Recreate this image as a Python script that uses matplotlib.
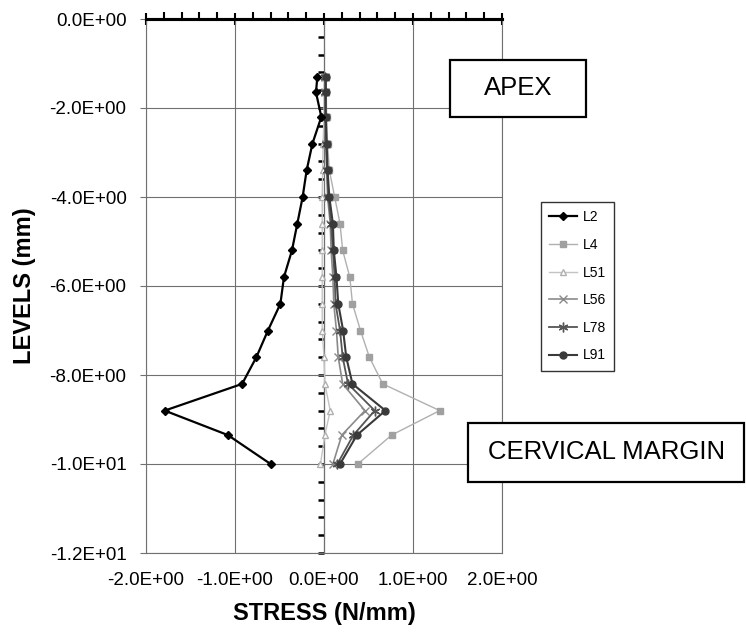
import matplotlib
matplotlib.use('Agg')
import matplotlib.pyplot as plt
from matplotlib.patches import Rectangle
from matplotlib.ticker import MultipleLocator, FuncFormatter, NullFormatter

plt.rcParams['font.family'] = ['Liberation Sans', 'DejaVu Sans']

# levels along the root (mm)
levels = [-1.3, -1.65, -2.2, -2.8, -3.4, -4.0, -4.6, -5.2, -5.8, -6.4,
          -7.0, -7.6, -8.2, -8.8, -9.35, -10.0]

# stress values (N/mm) per load case
L2 = [-0.075, -0.09, -0.03, -0.13, -0.195, -0.24, -0.30, -0.36, -0.45, -0.49,
      -0.63, -0.76, -0.92, -1.79, -1.08, -0.60]
L4 = [0.025, 0.025, 0.03, 0.04, 0.06, 0.12, 0.18, 0.21, 0.29, 0.32,
      0.41, 0.51, 0.66, 1.30, 0.76, 0.38]
L51 = [0.0, 0.0, 0.0, -0.01, -0.015, -0.02, -0.02, -0.02, -0.02, -0.02,
       -0.02, 0.0, 0.01, 0.07, 0.01, -0.04]
L56 = [0.01, 0.01, 0.01, 0.02, 0.03, 0.04, 0.07, 0.08, 0.10, 0.11,
       0.14, 0.16, 0.21, 0.46, 0.20, 0.10]
L78 = [0.015, 0.015, 0.015, 0.025, 0.035, 0.05, 0.08, 0.10, 0.12, 0.13,
       0.18, 0.21, 0.27, 0.57, 0.33, 0.15]
L91 = [0.02, 0.02, 0.02, 0.03, 0.04, 0.06, 0.10, 0.11, 0.14, 0.16,
       0.215, 0.25, 0.32, 0.69, 0.37, 0.18]

W, H = 746, 632
fig = plt.figure(figsize=(W / 100, H / 100), dpi=100)
ax = fig.add_axes([146 / W, 1 - 553 / H, 356 / W, 534 / H])

ax.plot(L2, levels, color='black', lw=1.6, marker='D', ms=4.5, label='L2', zorder=5)
ax.plot(L4, levels, color='#b0b0b0', lw=1.0, marker='s', ms=5, mfc='#a0a0a0',
        mec='#a0a0a0', label='L4', zorder=4)
ax.plot(L51, levels, color='#c4c4c4', lw=1.0, marker='^', ms=5, mfc='white',
        mec='#b0b0b0', label='L51', zorder=4)
ax.plot(L56, levels, color='#8a8a8a', lw=1.2, marker='x', ms=6, mew=1.0,
        label='L56', zorder=4)
ax.plot(L78, levels, color='#555555', lw=1.3, marker=(6, 2, 0), ms=7, mew=1.0,
        label='L78', zorder=4)
ax.plot(L91, levels, color='#3a3a3a', lw=1.5, marker='o', ms=5, label='L91', zorder=4)

ax.set_xlim(-2, 2)
ax.set_ylim(-12, 0)
ax.xaxis.set_major_locator(MultipleLocator(1))
ax.yaxis.set_major_locator(MultipleLocator(2))
sci = FuncFormatter(lambda v, p: ('%.1E' % v).replace('-0.0', '0.0'))
ax.xaxis.set_major_formatter(sci)
ax.yaxis.set_major_formatter(sci)
ax.grid(True, color='#707070', lw=0.8)
ax.set_axisbelow(True)

for s in ['left', 'bottom', 'right']:
    ax.spines[s].set_color('#707070')
    ax.spines[s].set_linewidth(0.8)
ax.spines['top'].set_color('black')
ax.spines['top'].set_linewidth(2.2)

ax.tick_params(axis='x', length=0, pad=14, labelsize=13.5)
ax.tick_params(axis='y', direction='out', length=4, width=0.8, color='#707070',
               pad=10, labelsize=13.5)

# top axis with tick marks
top = ax.secondary_xaxis('top')
top.xaxis.set_major_locator(MultipleLocator(1))
top.xaxis.set_minor_locator(MultipleLocator(0.2))
top.xaxis.set_major_formatter(NullFormatter())
top.tick_params(which='major', direction='inout', length=9, width=1.5)
top.tick_params(which='minor', direction='out', length=5, width=1.5)
top.spines['top'].set_linewidth(2.2)

# vertical axis through zero
mid = ax.secondary_yaxis(0.5)
mid.yaxis.set_major_locator(MultipleLocator(0.4))
mid.yaxis.set_major_formatter(NullFormatter())
mid.yaxis.set_ticks_position('left')
mid.tick_params(axis='y', direction='out', length=4, width=1.8, left=True,
                right=False, labelleft=False, labelright=False)
mid.spines['left'].set_linewidth(2.5)
mid.spines['left'].set_color('black')

ax.set_xlabel('STRESS (N/mm)', fontsize=17, fontweight='bold', labelpad=9)
ax.set_ylabel('LEVELS (mm)', fontsize=17, fontweight='bold', labelpad=10)

leg = ax.legend(loc='upper left', bbox_to_anchor=(541 / W, 1 - 202 / H),
                bbox_transform=fig.transFigure, fontsize=10, frameon=True,
                fancybox=False, edgecolor='black', handlelength=2.0,
                labelspacing=0.98, borderpad=0.6, handletextpad=0.4,
                borderaxespad=0)
leg.get_frame().set_linewidth(1.0)

# annotation boxes
fig.patches.append(Rectangle((450 / W, 1 - 117 / H), 136 / W, 57 / H,
                             transform=fig.transFigure, fill=True, fc='white',
                             ec='black', lw=1.6, zorder=6))
fig.text(518 / W, 1 - 88 / H, 'APEX', fontsize=18.5, ha='center', va='center', zorder=7)
fig.patches.append(Rectangle((468 / W, 1 - 482 / H), 276 / W, 59 / H,
                             transform=fig.transFigure, fill=True, fc='white',
                             ec='black', lw=1.6, zorder=6))
fig.text(607 / W, 1 - 452 / H, 'CERVICAL MARGIN', fontsize=18.5, ha='center',
         va='center', zorder=7)

fig.savefig('out.png', dpi=100)
